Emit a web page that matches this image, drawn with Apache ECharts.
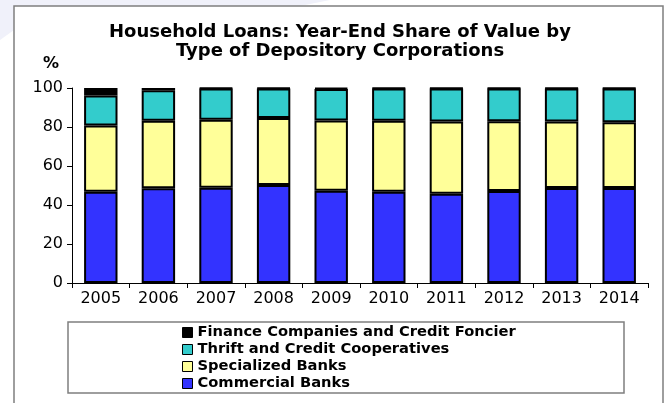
<!DOCTYPE html>
<html>
<head>
<meta charset="utf-8">
<script src="https://cdn.jsdelivr.net/npm/echarts@6/dist/echarts.min.js"></script>
<style>
  html, body { margin: 0; padding: 0; background: #ffffff; }
  #chart { width: 670px; height: 403px; }
</style>
</head>
<body>
<div id="chart"></div>
<script>
const years = ['2005','2006','2007','2008','2009','2010','2011','2012','2013','2014'];
const commercialBanks = [46.8, 48.6, 48.9, 50.3, 47.3, 46.8, 45.8, 47.2, 48.7, 48.7];
const specializedBanks = [34.0, 34.6, 34.8, 34.3, 36.0, 36.4, 37.0, 35.8, 34.1, 33.8];
const thriftCoops = [15.4, 15.6, 16.0, 15.1, 16.2, 16.6, 17.0, 16.8, 17.0, 17.3];
const financeCompanies = [3.8, 1.2, 0.3, 0.3, 0.5, 0.2, 0.2, 0.2, 0.2, 0.2];
const yTicks = [0, 20, 40, 60, 80, 100];

const FONT = '"DejaVu Sans", Verdana, sans-serif';
const names = {
  fin: 'Finance Companies and Credit Foncier',
  thr: 'Thrift and Credit Cooperatives',
  spe: 'Specialized Banks',
  com: 'Commercial Banks'
};

function bar(name, data, color) {
  return {
    name: name, type: 'bar', stack: 'total', data: data,
    barWidth: '58%',
    itemStyle: { color: color, borderColor: '#000000', borderWidth: 2 },
    emphasis: { disabled: true }
  };
}

const chart = echarts.init(document.getElementById('chart'), null, { renderer: 'canvas' });
chart.setOption({
  animation: false,
  backgroundColor: '#ffffff',
  title: {
    text: 'Household Loans: Year-End Share of Value by\nType of Depository Corporations',
    left: 340, top: 23, textAlign: 'center', padding: 0,
    textStyle: { fontFamily: FONT, fontSize: 18, fontWeight: 'bold', color: '#000', lineHeight: 19 }
  },
  grid: { left: 72, right: 22, top: 88, bottom: 120 },
  legend: {
    orient: 'vertical', left: 182, top: 325, height: 78, padding: 0,
    itemWidth: 10, itemHeight: 10, itemGap: 2,
    icon: 'rect',
    data: [names.fin, names.thr, names.spe, names.com],
    textStyle: { fontFamily: FONT, fontSize: 14.7, fontWeight: 'bold', color: '#000', lineHeight: 15 },
    itemStyle: { borderColor: '#000', borderWidth: 1 },
    selectedMode: false
  },
  xAxis: {
    type: 'category', data: years,
    axisLine: { show: true, lineStyle: { color: '#000', width: 1 } },
    axisTick: { show: true, length: 5, lineStyle: { color: '#000' } },
    axisLabel: { fontFamily: FONT, fontSize: 16, color: '#000', margin: 8 }
  },
  yAxis: {
    type: 'value', min: yTicks[0], max: yTicks[yTicks.length - 1], interval: 20,
    axisLine: { show: true, lineStyle: { color: '#000', width: 1 } },
    axisTick: { show: true, length: 5, lineStyle: { color: '#000' } },
    splitLine: { show: false },
    axisLabel: { fontFamily: FONT, fontSize: 16, color: '#000', margin: 9 }
  },
  series: [
    bar(names.com, commercialBanks, '#3333FF'),
    bar(names.spe, specializedBanks, '#FFFF99'),
    bar(names.thr, thriftCoops, '#33CCCC'),
    bar(names.fin, financeCompanies, '#000000')
  ],
  graphic: [
    { type: 'polygon', z: -2, silent: true,
      shape: { points: [[0,0],[330,0],[300,6],[14,6],[14,30],[0,40]] },
      style: { fill: '#f0f1fa' } },
    { type: 'rect', z: -1, silent: true,
      shape: { x: 14, y: 6, width: 649, height: 420 },
      style: { fill: 'none', stroke: '#7f7f7f', lineWidth: 1.5 } },
    { type: 'rect', silent: true,
      shape: { x: 68, y: 322, width: 556, height: 71 },
      style: { fill: 'none', stroke: '#7f7f7f', lineWidth: 1.5 } },
    { type: 'text', silent: true, left: 43, top: 56,
      style: { text: '%', fontFamily: FONT, fontSize: 16, fontWeight: 'bold', fill: '#000' } }
  ]
});
</script>
</body>
</html>
